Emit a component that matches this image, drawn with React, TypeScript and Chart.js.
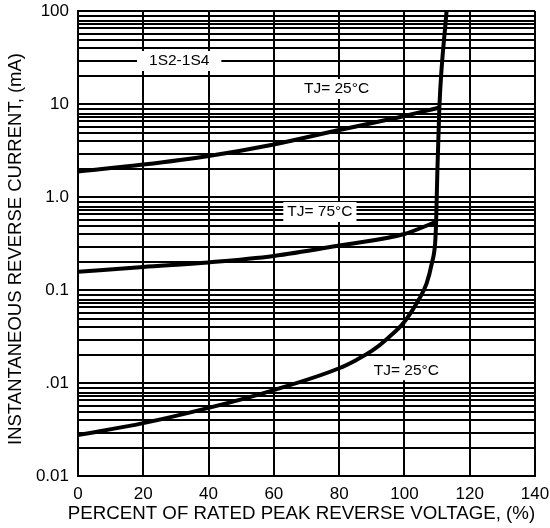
import { useEffect, useRef } from 'react';
import { Chart, registerables } from 'chart.js';

Chart.register(...registerables);

// ---- data ----
const xTickValues = [0, 20, 40, 60, 80, 100, 120, 140];
const yDecades = [100, 10, 1, 0.1, 0.01, 0.001];
const yDecadeLabels = ['100', '10', '1.0', '0.1', '.01', '0.01'];
const yMinorFactors = [0.88, 0.78, 0.72, 0.65, 0.57, 0.49, 0.4, 0.29, 0.2];

const upper25X = [0, 20, 40, 60, 80, 100, 110.8];
const upper25Y = [1.88, 2.23, 2.76, 3.67, 5.25, 7.43, 9.17];

const mid75X = [0, 20, 40, 60, 80, 100, 109.5];
const mid75Y = [0.157, 0.177, 0.198, 0.232, 0.301, 0.4, 0.538];

const low25X = [0, 20, 40, 60, 80, 85, 90, 95, 100, 104.3, 106.8, 108.4, 109.4, 109.7, 110.1, 110.7, 112.9];
const low25Y = [0.00276, 0.0037, 0.0054, 0.0084, 0.0144, 0.0175, 0.0221, 0.0305, 0.0456, 0.078, 0.118, 0.194, 0.318, 0.52, 1.95, 9.2, 100];

const noteTexts = ['1S2-1S4', 'TJ= 25°C', 'TJ= 75°C', 'TJ= 25°C'];
const noteX = [31, 79.2, 74.1, 100.6];
const noteY = [29, 14.5, 0.69, 0.0137];

const xTitle = 'PERCENT OF RATED PEAK REVERSE VOLTAGE, (%)';
const yTitle = 'INSTANTANEOUS REVERSE CURRENT, (mA)';

const FONT = '"Liberation Sans", Arial, Helvetica, sans-serif';

const toPoints = (xs: number[], ys: number[]) => xs.map((x, i) => ({ x, y: ys[i] }));

const notesPlugin = {
  id: 'notes',
  beforeDatasetsDraw(chart: any) {
    const { ctx, scales } = chart;
    const xs = scales.x;
    const ys = scales.y;
    ctx.save();
    ctx.font = `15.5px ${FONT}`;
    ctx.textBaseline = 'middle';
    ctx.textAlign = 'center';
    noteTexts.forEach((t, i) => {
      const px = xs.getPixelForValue(noteX[i]);
      const py = ys.getPixelForValue(noteY[i]);
      const w = ctx.measureText(t).width;
      const padX = i === 0 ? 12 : 4;
      ctx.fillStyle = '#ffffff';
      ctx.fillRect(px - w / 2 - padX, py - 10, w + padX * 2, 20);
      ctx.fillStyle = '#000000';
      ctx.fillText(t, px, py);
    });
    ctx.restore();
  },
  afterDraw(chart: any) {
    const { ctx, chartArea } = chart;
    ctx.save();
    ctx.fillStyle = '#000000';
    ctx.textAlign = 'center';
    ctx.textBaseline = 'middle';
    ctx.font = `18.7px ${FONT}`;
    ctx.fillText(xTitle, chartArea.left + 223.5, 514);
    ctx.translate(16, chartArea.top + 238);
    ctx.rotate(-Math.PI / 2);
    ctx.font = `18.5px ${FONT}`;
    ctx.fillText(yTitle, 0, 0);
    ctx.restore();
  },
};

export default function App() {
  const ref = useRef<HTMLCanvasElement | null>(null);

  useEffect(() => {
    document.body.style.margin = '0';
    const canvas = ref.current;
    if (!canvas) return;

    const lineStyle = {
      borderColor: '#000000',
      borderWidth: 4,
      pointRadius: 0,
      fill: false,
      cubicInterpolationMode: 'monotone' as const,
    };

    const chart = new Chart(canvas, {
      type: 'line',
      data: {
        datasets: [
          { label: 'TJ=25 upper', data: toPoints(upper25X, upper25Y), ...lineStyle },
          { label: 'TJ=75', data: toPoints(mid75X, mid75Y), ...lineStyle },
          { label: 'TJ=25 lower', data: toPoints(low25X, low25Y), ...lineStyle },
        ],
      },
      options: {
        responsive: false,
        animation: false,
        layout: { padding: { top: 11, right: 15, left: 0, bottom: 0 } },
        plugins: {
          legend: { display: false },
          tooltip: { enabled: false },
        },
        scales: {
          x: {
            type: 'linear',
            min: 0,
            max: 140,
            afterBuildTicks: (scale: any) => {
              scale.ticks = xTickValues.map((v) => ({ value: v }));
            },
            afterFit: (scale: any) => {
              scale.height = 52;
              scale.paddingLeft = 0;
              scale.paddingRight = 0;
            },
            grid: { color: '#000000', lineWidth: 2, drawTicks: false },
            border: { display: true, color: '#000000', width: 2 },
            ticks: {
              color: '#000000',
              font: { family: FONT, size: 17 },
              padding: 8,
              autoSkip: false,
              maxRotation: 0,
            },
            title: { display: false },
          },
          y: {
            type: 'logarithmic',
            min: 0.001,
            max: 100,
            afterBuildTicks: (scale: any) => {
              const vals: number[] = [];
              yDecades.forEach((d, i) => {
                vals.push(d);
                if (i < yDecades.length - 1) {
                  yMinorFactors.forEach((f) => vals.push(d * f));
                }
              });
              scale.ticks = vals.map((v) => ({ value: v }));
            },
            afterFit: (scale: any) => {
              scale.width = 78;
              scale.paddingTop = 0;
              scale.paddingBottom = 0;
            },
            grid: { color: '#000000', lineWidth: 2, drawTicks: false },
            border: { display: true, color: '#000000', width: 2 },
            ticks: {
              color: '#000000',
              font: { family: FONT, size: 17 },
              padding: 9,
              autoSkip: false,
              callback: (value: any) => {
                const idx = yDecades.findIndex((d) => Math.abs(d - Number(value)) / d < 1e-6);
                return idx >= 0 ? yDecadeLabels[idx] : '';
              },
            },
            title: { display: false },
          },
        },
      },
      plugins: [notesPlugin],
    });

    return () => chart.destroy();
  }, []);

  return (
    <div style={{ width: 550, height: 528 }}>
      <canvas ref={ref} width={550} height={528} style={{ display: 'block' }} />
    </div>
  );
}
